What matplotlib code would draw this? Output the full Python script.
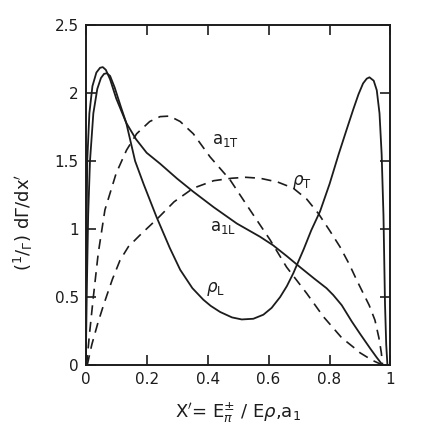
import matplotlib
matplotlib.use("Agg")
import matplotlib.pyplot as plt

# ---- data ----
rhoL_x = [0, 0.004, 0.008, 0.014, 0.025, 0.038, 0.05, 0.06, 0.069, 0.08, 0.095, 0.115, 0.133,
          0.162, 0.19, 0.232, 0.276, 0.31, 0.35, 0.386, 0.41, 0.441, 0.48, 0.512, 0.55, 0.583,
          0.61, 0.638, 0.66, 0.681, 0.715, 0.74, 0.769, 0.8, 0.83, 0.856, 0.878, 0.895, 0.91,
          0.922, 0.931, 0.945, 0.955, 0.964, 0.971, 0.977, 0.982, 0.986, 0.99]
rhoL_y = [0, 0.6, 1.1, 1.5, 1.85, 2.03, 2.11, 2.14, 2.145, 2.125, 2.04, 1.9, 1.78,
          1.5, 1.33, 1.09, 0.86, 0.70, 0.565, 0.48, 0.435, 0.39, 0.35, 0.335, 0.34, 0.37,
          0.42, 0.5, 0.58, 0.674, 0.85, 0.99, 1.13, 1.33, 1.55, 1.73, 1.88, 1.99, 2.07,
          2.105, 2.115, 2.09, 2.02, 1.85, 1.55, 1.1, 0.45, 0.15, 0]

a1L_x = [0, 0.002, 0.005, 0.012, 0.022, 0.035, 0.047, 0.056, 0.066, 0.08, 0.1, 0.133,
         0.165, 0.2, 0.244, 0.3, 0.353, 0.42, 0.496, 0.572, 0.615, 0.66, 0.703, 0.75,
         0.79, 0.812, 0.84, 0.873, 0.9, 0.934, 0.955, 0.974]
a1L_y = [0, 0.8, 1.5, 1.85, 2.05, 2.15, 2.185, 2.19, 2.17, 2.1, 1.96, 1.78,
         1.66, 1.56, 1.48, 1.37, 1.274, 1.16, 1.04, 0.943, 0.88, 0.80, 0.72, 0.635,
         0.565, 0.515, 0.44, 0.32, 0.23, 0.12, 0.055, 0]

a1T_x = [0.003, 0.012, 0.025, 0.041, 0.063, 0.1, 0.134, 0.167, 0.21, 0.244, 0.275, 0.31,
         0.353, 0.408, 0.474, 0.539, 0.605, 0.659, 0.725, 0.78, 0.818, 0.84, 0.879, 0.9,
         0.94, 0.974]
a1T_y = [0, 0.22, 0.5, 0.82, 1.14, 1.41, 1.58, 1.70, 1.79, 1.826, 1.83, 1.79,
         1.70, 1.53, 1.36, 1.14, 0.92, 0.72, 0.527, 0.355, 0.257, 0.2, 0.13, 0.09,
         0.035, 0]

rhoT_x = [0.005, 0.02, 0.04, 0.057, 0.069, 0.0875, 0.1125, 0.14, 0.178, 0.237, 0.29, 0.353,
          0.42, 0.479, 0.525, 0.572, 0.63, 0.681, 0.725, 0.763, 0.8, 0.834, 0.865, 0.889,
          0.91, 0.93, 0.949, 0.962, 0.97, 0.974]
rhoT_y = [0, 0.15, 0.31, 0.43, 0.51, 0.63, 0.77, 0.87, 0.955, 1.08, 1.2, 1.30,
          1.355, 1.373, 1.38, 1.373, 1.345, 1.30, 1.22, 1.115, 0.99, 0.87, 0.74, 0.625,
          0.53, 0.44, 0.33, 0.2, 0.09, 0]

x_ticks = [0, 0.2, 0.4, 0.6, 0.8, 1]
x_tick_labels = ["0", "0.2", "0.4", "0.6", "0.8", "1"]
y_ticks = [0, 0.5, 1, 1.5, 2, 2.5]
y_tick_labels = ["0", "0.5", "1", "1.5", "2", "2.5"]

curve_labels = [r"a$_{\rm 1T}$", r"$\rho_{\rm T}$", r"a$_{\rm 1L}$", r"$\rho_{\rm L}$"]
label_x = [0.457, 0.71, 0.452, 0.425]
label_y = [1.655, 1.345, 1.017, 0.56]

# ---- figure ----
fig = plt.figure(figsize=(4.36, 4.36), dpi=100)
ax = fig.add_axes([0.1966, 0.1628, 0.699, 0.78])

ink = "#1c1c1c"
ax.plot(rhoL_x, rhoL_y, color=ink, lw=1.3)
ax.plot(a1L_x, a1L_y, color=ink, lw=1.3)
ax.plot(a1T_x, a1T_y, color=ink, lw=1.2, dashes=(6, 4))
ax.plot(rhoT_x, rhoT_y, color=ink, lw=1.2, dashes=(6, 4))

for t, lx, ly in zip(curve_labels, label_x, label_y):
    ax.text(lx, ly, t, fontsize=12, color=ink, ha="center", va="center")

ax.set_xlim(0, 1)
ax.set_ylim(0, 2.5)
ax.set_xticks(x_ticks)
ax.set_xticklabels(x_tick_labels)
ax.set_yticks(y_ticks)
ax.set_yticklabels(y_tick_labels)
ax.tick_params(direction="in", length=7, width=1.2, top=True, right=True,
               labelsize=11, colors=ink, pad=5)
for s in ax.spines.values():
    s.set_linewidth(1.4)
    s.set_color(ink)

ax.set_xlabel(r"X$'$= E$_{\pi}^{\pm}$ / E$\rho$,a$_{1}$", fontsize=13, color=ink)
ax.set_ylabel(r"$(^{1}/_{\Gamma})$ d$\Gamma$/dx$'$", fontsize=13, color=ink)
ax.xaxis.set_label_coords(0.5, -0.105)
ax.yaxis.set_label_coords(-0.166, 0.42)

fig.savefig("out.png", dpi=100, facecolor="white")
